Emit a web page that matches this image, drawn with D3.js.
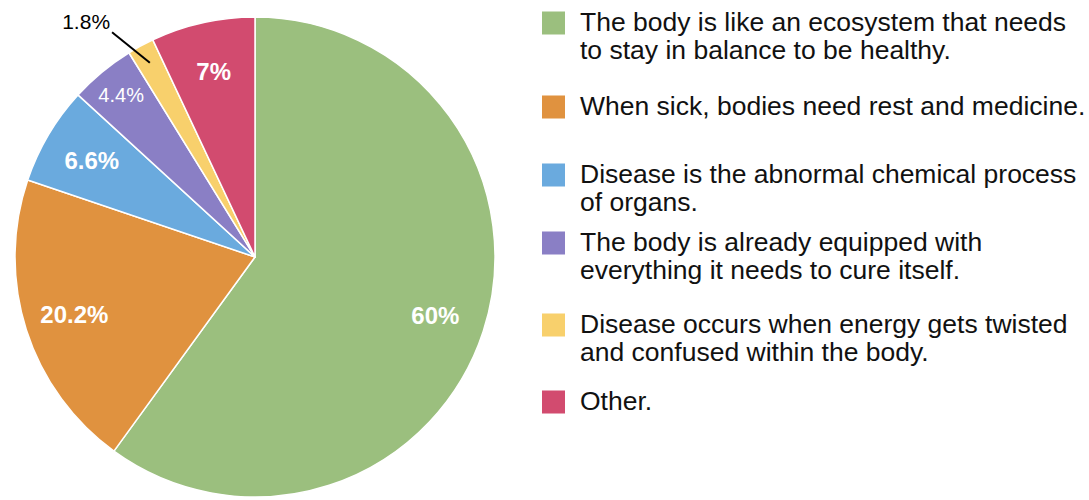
<!DOCTYPE html>
<html>
<head>
<meta charset="utf-8">
<script src="https://cdn.jsdelivr.net/npm/d3@7"></script>
<style>
  html, body { margin: 0; padding: 0; background: #fff; }
  svg { display: block; }
</style>
</head>
<body>
<svg id="chart" width="1089" height="500"></svg>
<script>
// Survey answers: how respondents think about the body and disease
const categories = [
  "The body is like an ecosystem that needs\nto stay in balance to be healthy.",
  "When sick, bodies need rest and medicine.",
  "Disease is the abnormal chemical process\nof organs.",
  "The body is already equipped with\neverything it needs to cure itself.",
  "Disease occurs when energy gets twisted\nand confused within the body.",
  "Other."
];
const values = [60, 20.2, 6.6, 4.4, 1.8, 7];
const valueLabels = ["60%", "20.2%", "6.6%", "4.4%", "1.8%", "7%"];
const colors = ["#9bbf7e", "#e0923f", "#6aaade", "#8a7fc5", "#f8d06c", "#d24b6f"];

const width = 1089, height = 500;
const cx = 255, cy = 257, R = 240;
const font = "'Liberation Sans', Arial, Helvetica, sans-serif";

const svg = d3.select("#chart");
svg.append("rect").attr("width", width).attr("height", height).attr("fill", "#fff");

const pie = d3.pie().sort(null).value(d => d)(values);
const arc = d3.arc().innerRadius(0).outerRadius(R);

const g = svg.append("g").attr("transform", `translate(${cx},${cy})`);

g.selectAll("path.slice")
  .data(pie)
  .join("path")
  .attr("class", "slice")
  .attr("d", arc)
  .attr("fill", (d, i) => colors[i])
  .attr("stroke", "#fff")
  .attr("stroke-width", 1.5)
  .attr("stroke-linejoin", "round");

// polar point, angle measured clockwise from 12 o'clock
const polar = (a, r) => [Math.sin(a) * r, -Math.cos(a) * r];

pie.forEach((d, i) => {
  const mid = (d.startAngle + d.endAngle) / 2;
  const v = values[i];
  if (v >= 5) {
    const [x, y] = polar(mid, R * 0.79);
    g.append("text")
      .attr("x", x).attr("y", y)
      .attr("text-anchor", "middle")
      .attr("dominant-baseline", "central")
      .attr("font-family", font)
      .attr("font-weight", "bold")
      .attr("font-size", 24)
      .attr("fill", "#fff")
      .text(valueLabels[i]);
  } else if (v >= 3) {
    const [x, y] = polar(mid, R * 0.875);
    g.append("text")
      .attr("x", x).attr("y", y)
      .attr("text-anchor", "middle")
      .attr("dominant-baseline", "central")
      .attr("font-family", font)
      .attr("font-size", 20)
      .attr("fill", "#fff")
      .text(valueLabels[i]);
  } else {
    // thin slice: label outside with a leader line
    const [x1, y1] = polar(mid, R * 0.92);
    const [x2, y2] = polar(mid - 0.07, R * 1.11);
    g.append("line")
      .attr("x1", x1).attr("y1", y1)
      .attr("x2", x2).attr("y2", y2)
      .attr("stroke", "#000")
      .attr("stroke-width", 2);
    g.append("text")
      .attr("x", x2 - 2).attr("y", y2 - 3)
      .attr("text-anchor", "end")
      .attr("font-family", font)
      .attr("font-size", 21)
      .attr("fill", "#000")
      .text(valueLabels[i]);
  }
});

// Legend
const legendX = 542, textX = 580, lineGap = 28, sw = 23;
const legendBaselines = [31, 115, 183, 251, 333, 410];

const legend = svg.append("g");
categories.forEach((c, i) => {
  const base = legendBaselines[i];
  legend.append("rect")
    .attr("x", legendX).attr("y", base - 8 - sw / 2)
    .attr("width", sw).attr("height", sw)
    .attr("fill", colors[i]);
  const t = legend.append("text")
    .attr("font-family", font)
    .attr("font-size", 26.5)
    .attr("fill", "#111");
  c.split("\n").forEach((line, j) => {
    t.append("tspan")
      .attr("x", textX)
      .attr("y", base + j * lineGap)
      .text(line);
  });
});
</script>
</body>
</html>
